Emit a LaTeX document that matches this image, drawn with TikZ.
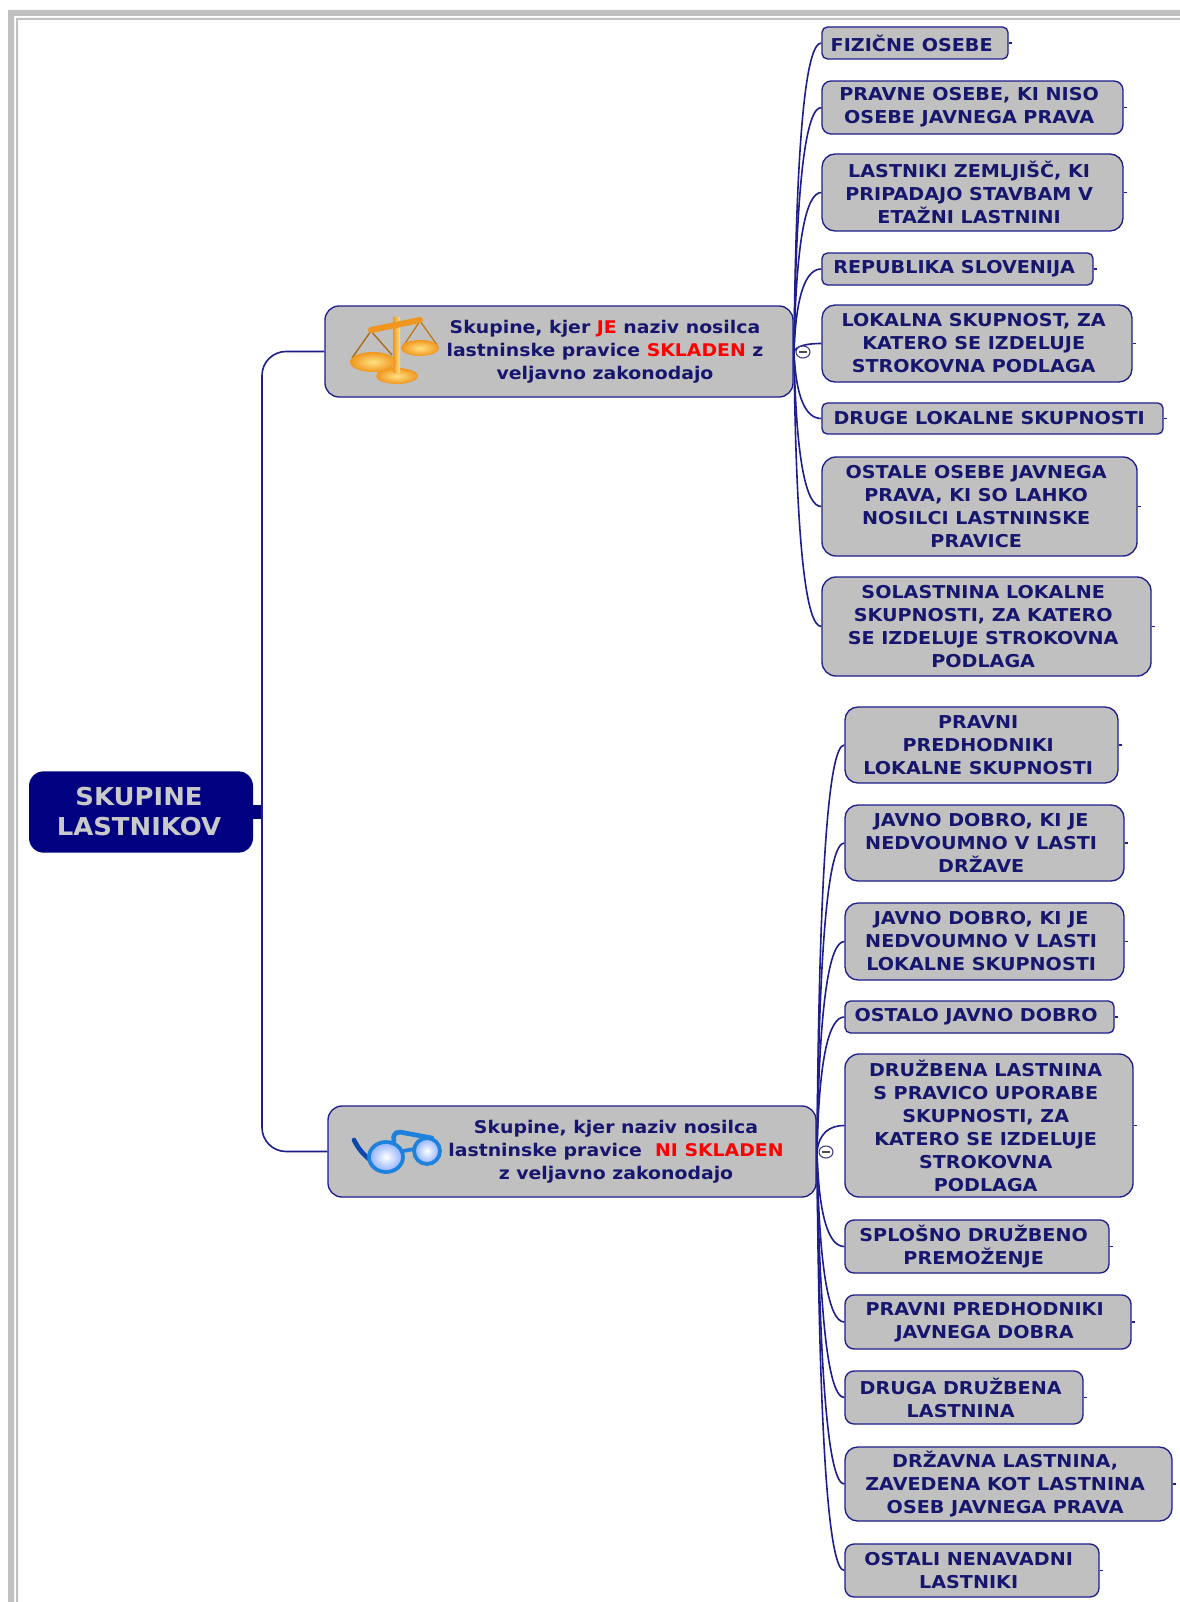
\documentclass[tikz,border=0pt]{standalone}
\usepackage{fontspec}
\setmainfont{DejaVu Sans}[BoldFont={DejaVu Sans Bold}]
\newfontfamily\leaffont{DejaVu Sans Bold}[FakeStretch=1.08]
\newfontfamily\rootfont{DejaVu Sans Bold}[FakeStretch=1.05]
\usetikzlibrary{calc}
\definecolor{navyline}{RGB}{30,30,140}
\definecolor{navytext}{RGB}{22,22,110}
\definecolor{rootblue}{RGB}{0,0,128}
\definecolor{boxgray}{RGB}{192,192,192}
\definecolor{goldlight}{RGB}{255,225,130}
\definecolor{golddark}{RGB}{240,150,30}
\definecolor{framedark}{RGB}{15,70,170}
\definecolor{framelight}{RGB}{30,130,220}
\tikzset{
  leafbox/.style = {draw = navyline, fill = boxgray, line width = 1pt, inner sep = 0pt},
  leaftext/.style = {align = center, text = navytext, inner sep = 0pt, font = \leaffont\fontsize{13.3}{17.25}\selectfont},
  branch/.style = {draw = navyline, line width = 1.2pt},
  grouptext/.style = {align = center, text = navytext, inner sep = 0pt, font = \leaffont\fontsize{13.1}{17.25}\selectfont},
  marker/.style = {draw = navyline!70!gray, fill = white, line width = 0.8pt}
}
\newcommand\leaf[6]{
  \pgfmathsetlengthmacro\boxw{(#4-#2)*0.75}
  \pgfmathsetlengthmacro\boxh{(#5-#3)*0.75}
  \pgfmathsetlengthmacro\boxr{min((#5-#3)*0.17,14)*0.75}
  \node [leafbox, minimum width = \boxw, minimum height = \boxh, rounded corners = \boxr] (#1) at ({(#2+#4)/2},{(#3+#5)/2}) {};
  \node [leaftext] (#1text) at ([xshift = -2.5pt]#1.center) {#6};
}
\begin{document}
\begin{tikzpicture}[x = 0.75pt, y = -0.75pt]
\useasboundingbox (0,0) rectangle (1180,1602);
\fill [white] (0,0) rectangle (1180,1602);
\fill [boxgray] (8,1602) -- (8,10) -- (1180,10) -- (1180,16) -- (14,16) -- (14,1602) -- cycle;
\fill [boxgray] (16,1602) -- (16,18) -- (1180,18) -- (1180,20) -- (18,20) -- (18,1602) -- cycle;
\node [fill = rootblue, rounded corners = 11pt, minimum width = 168pt, minimum height = 61pt, inner sep = 0pt] (root) at (141,812) {};
\node [align = center, inner sep = 0pt, text = boxgray!85!white, font = \rootfont\fontsize{18.5}{22.5}\selectfont] (roottext) at (139,812) {SKUPINE\\LASTNIKOV};
\coordinate (rootstub) at (262,812);
\draw [rootblue, line width = 10pt] (root.east) -- (rootstub);
\leaf{grpA}{325}{306}{793}{397}{}
\leaf{grpB}{328}{1106}{816}{1197}{}
\node [grouptext] (grpAtext) at (605,352) {Skupine, kjer \textcolor{red}{JE} naziv nosilca\\lastninske pravice \textcolor{red}{SKLADEN} z\\veljavno zakonodajo};
\node [grouptext] (grpBtext) at (616,1152) {Skupine, kjer naziv nosilca\\lastninske pravice~~\textcolor{red}{NI SKLADEN}\\z veljavno zakonodajo};
\draw [branch, rounded corners = 18pt] (rootstub) |- (grpA.west);
\draw [branch, rounded corners = 18pt] (rootstub) |- (grpB.west);
\leaf{a1}{822}{27}{1008}{59}{FIZIČNE OSEBE}
\leaf{a2}{822}{81}{1123}{134}{PRAVNE OSEBE, KI NISO\\OSEBE JAVNEGA PRAVA}
\leaf{a3}{822}{154}{1123}{231}{LASTNIKI ZEMLJIŠČ, KI\\PRIPADAJO STAVBAM V\\ETAŽNI LASTNINI}
\leaf{a4}{822}{253}{1093}{285}{REPUBLIKA SLOVENIJA}
\leaf{a5}{822}{305}{1132}{382}{LOKALNA SKUPNOST, ZA\\KATERO SE IZDELUJE\\STROKOVNA PODLAGA}
\leaf{a6}{822}{403}{1163}{434}{DRUGE LOKALNE SKUPNOSTI}
\leaf{a7}{822}{457}{1137}{556}{OSTALE OSEBE JAVNEGA\\PRAVA, KI SO LAHKO\\NOSILCI LASTNINSKE\\PRAVICE}
\leaf{a8}{822}{577}{1151}{676}{SOLASTNINA LOKALNE\\SKUPNOSTI, ZA KATERO\\SE IZDELUJE STROKOVNA\\PODLAGA}
\leaf{b1}{845}{707}{1118}{783}{PRAVNI\\PREDHODNIKI\\LOKALNE SKUPNOSTI}
\leaf{b2}{845}{805}{1124}{881}{JAVNO DOBRO, KI JE\\NEDVOUMNO V LASTI\\DRŽAVE}
\leaf{b3}{845}{903}{1124}{980}{JAVNO DOBRO, KI JE\\NEDVOUMNO V LASTI\\LOKALNE SKUPNOSTI}
\leaf{b4}{845}{1001}{1114}{1033}{OSTALO JAVNO DOBRO}
\leaf{b5}{845}{1054}{1133}{1197}{DRUŽBENA LASTNINA\\S PRAVICO UPORABE\\SKUPNOSTI, ZA\\KATERO SE IZDELUJE\\STROKOVNA\\PODLAGA}
\leaf{b6}{845}{1220}{1109}{1273}{SPLOŠNO DRUŽBENO\\PREMOŽENJE}
\leaf{b7}{845}{1295}{1131}{1349}{PRAVNI PREDHODNIKI\\JAVNEGA DOBRA}
\leaf{b8}{845}{1371}{1083}{1424}{DRUGA DRUŽBENA\\LASTNINA}
\leaf{b9}{845}{1447}{1172}{1521}{DRŽAVNA LASTNINA,\\ZAVEDENA KOT LASTNINA\\OSEB JAVNEGA PRAVA}
\leaf{b10}{845}{1544}{1099}{1597}{OSTALI NENAVADNI\\LASTNIKI}
\coordinate (spineA) at (794,352);
\coordinate (spineB) at (817,1152);
\foreach \n in {a1,a2,a3,a4,a5,a6,a7,a8} {
  \draw [branch] (spineA) .. controls ($(spineA)!0.7!(spineA |- \n.west)+(1.5pt,0)$) and ($(spineA |- \n.west)+(9pt,0)$) .. (\n.west);
  \draw [branch] (\n.east) -- ++(3,0);
}
\foreach \n in {b1,b2,b3,b4,b5,b6,b7,b8,b9,b10} {
  \draw [branch] (spineB) .. controls ($(spineB)!0.7!(spineB |- \n.west)+(1.5pt,0)$) and ($(spineB |- \n.west)+(9pt,0)$) .. (\n.west);
  \draw [branch] (\n.east) -- ++(3,0);
}
\draw [marker] (803,352) ellipse (7 and 6);
\draw [gray!60!black, line width = 1pt] (799,352) -- (807,352);
\draw [marker] (826,1152) ellipse (7 and 6);
\draw [gray!60!black, line width = 1pt] (822,1152) -- (830,1152);
\draw [golddark!70!black, line width = 1pt] (352,358) -- (371,331) -- (392,355);
\draw [golddark!80!black, line width = 1pt] (404,345) -- (420,321) -- (437,345);
\shade [inner color = goldlight, outer color = golddark] (420,348) ellipse (19 and 8);
\shade [inner color = goldlight, outer color = golddark] (397,376) ellipse (21 and 8);
\shade [left color = golddark, right color = goldlight] (393,317) rectangle (400,372);
\draw [golddark, line width = 4.5pt, line cap = round] (371,330) -- (420,320);
\shade [inner color = goldlight, outer color = golddark] (373,362) ellipse (23 and 10);
\draw [framedark, line width = 3.5pt, line cap = round] (354,1140) .. controls (358,1148) and (364,1156) .. (372,1161);
\draw [framelight, line width = 3.5pt, line cap = round] (394,1141) .. controls (392,1132) and (398,1131) .. (405,1133) -- (432,1138);
\shade [inner color = white, outer color = cyan!30!blue!45!white] (386,1157) ellipse (17 and 15);
\draw [framelight, line width = 2.8pt] (386,1157) ellipse (17 and 15);
\shade [inner color = white, outer color = cyan!30!blue!45!white] (427,1151) ellipse (13 and 13);
\draw [framelight, line width = 2.8pt] (427,1151) ellipse (13 and 13);
\draw [framelight, line width = 2.8pt] (403,1151) -- (414,1149);
\end{tikzpicture}
\end{document}
